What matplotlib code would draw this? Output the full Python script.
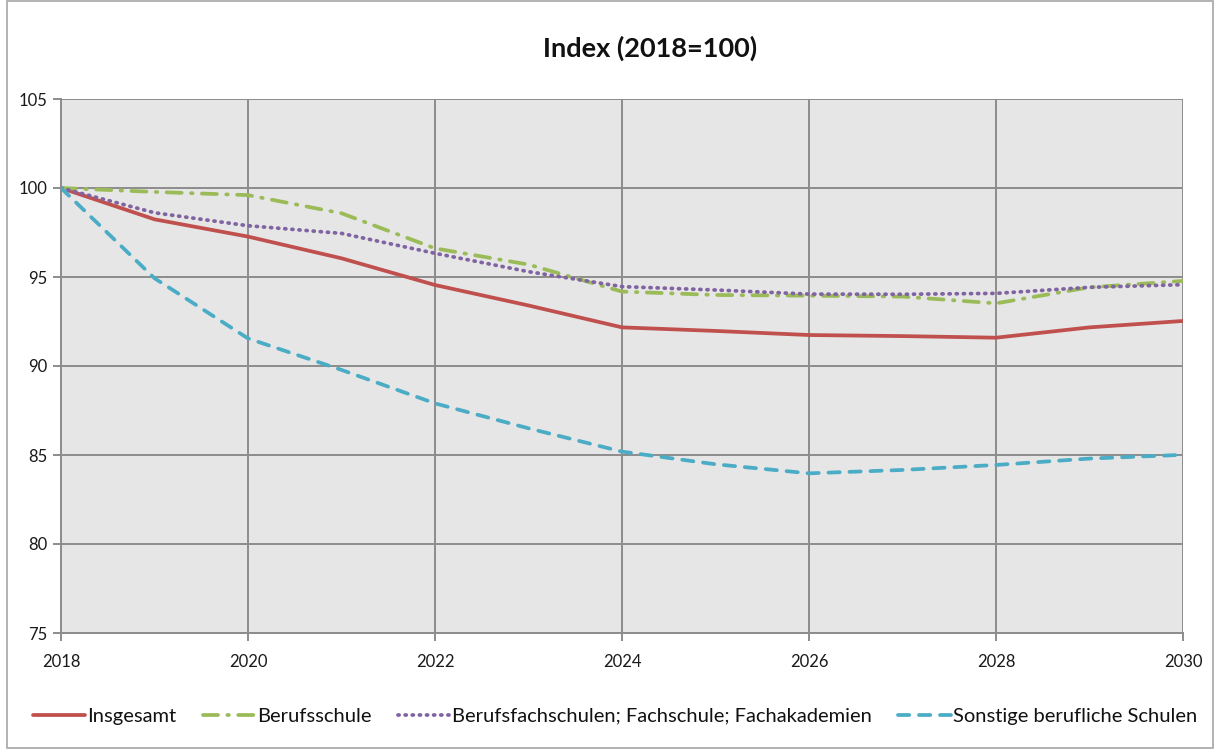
import matplotlib
matplotlib.use("Agg")
import matplotlib.pyplot as plt
from matplotlib.patches import Rectangle

years = list(range(2018, 2031))
insgesamt = [100, 98.24, 97.27, 96.05, 94.55, 93.4, 92.17, 91.97, 91.74, 91.68, 91.59, 92.17, 92.53]
berufsschule = [100, 99.78, 99.6, 98.58, 96.61, 95.7, 94.18, 93.99, 93.95, 93.9, 93.52, 94.42, 94.78]
berufsfach = [100, 98.61, 97.88, 97.45, 96.33, 95.3, 94.46, 94.27, 94.04, 94.03, 94.08, 94.42, 94.57]
sonstige = [100, 94.93, 91.55, 89.78, 87.9, 86.5, 85.19, 84.48, 83.97, 84.16, 84.44, 84.8, 85.01]
labels = ["Insgesamt", "Berufsschule", "Berufsfachschulen; Fachschule; Fachakademien",
          "Sonstige berufliche Schulen"]
xticks = [2018, 2020, 2022, 2024, 2026, 2028, 2030]
yticks = [75, 80, 85, 90, 95, 100, 105]

plt.rcParams['font.family'] = ['Lato', 'DejaVu Sans']

W, H = 1215, 749
fig = plt.figure(figsize=(W / 100, H / 100), dpi=100)
ax = fig.add_axes([61 / W, 1 - 633 / H, (1183 - 61) / W, (633 - 99) / H])
ax.set_facecolor('#e6e6e6')

lw = 2.7
ax.plot(years, insgesamt, color='#c0504d', lw=lw, solid_capstyle='round', label=labels[0])
ax.plot(years, berufsschule, color='#9bbb59', lw=lw, dashes=(4, 2.5, 0.4, 2.5),
        dash_capstyle='round', label=labels[1])
ax.plot(years, berufsfach, color='#8064a2', lw=lw, dashes=(0.3, 1.6),
        dash_capstyle='round', label=labels[2])
ax.plot(years, sonstige, color='#4bacc6', lw=lw, dashes=(3, 2.6),
        dash_capstyle='round', label=labels[3])

ax.set_xlim(2018, 2030)
ax.set_ylim(75, 105)
ax.set_xticks(xticks)
ax.set_yticks(yticks)
ax.grid(True, color='#8c8c8c', lw=1.4)
ax.set_axisbelow(True)
for s in ['top', 'right']:
    ax.spines[s].set_visible(False)
for s in ['left', 'bottom']:
    ax.spines[s].set_color('#8c8c8c')
    ax.spines[s].set_linewidth(1.4)
ax.tick_params(axis='both', colors='#8c8c8c', length=6, width=1.4, labelsize=12,
               labelcolor='#1a1a1a')
ax.tick_params(axis='x', pad=9)
ax.tick_params(axis='y', pad=4)

fig.text(650 / W, 1 - 48 / H, "Index (2018=100)", ha='center', va='center',
         fontsize=19.5, fontweight='bold', color='#111111')

leg = fig.legend(loc='center', bbox_to_anchor=(615 / W, 1 - 716 / H), ncol=4,
                 frameon=False, fontsize=14.5, handlelength=2.6, handletextpad=0.1,
                 columnspacing=1.3)
for t in leg.get_texts():
    t.set_color('#111111')

fig.patches.append(Rectangle((7 / W, 1 / H), 1 - 9 / W, 1 - 2 / H, transform=fig.transFigure,
                             fill=False, edgecolor='#a6a6a6', lw=1.2))

fig.savefig('out.png', dpi=100)
